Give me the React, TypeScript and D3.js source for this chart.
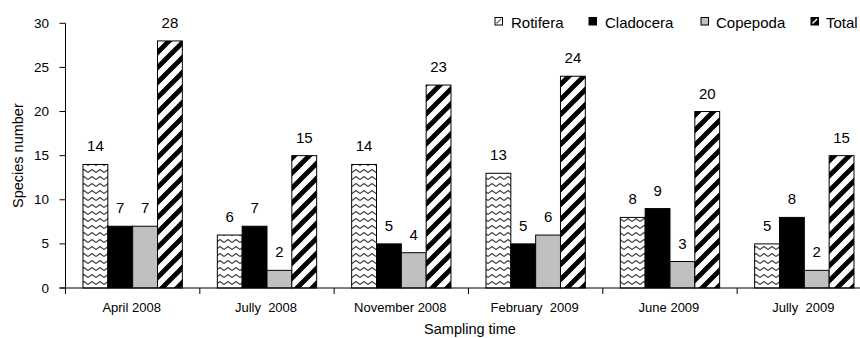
import React from "react";
import * as d3 from "d3";

const categories = ["April 2008", "Jully  2008", "November 2008", "February  2009", "June 2009", "Jully  2009"];
const seriesNames = ["Rotifera", "Cladocera", "Copepoda", "Total"];
const rotifera = [14, 6, 14, 13, 8, 5];
const cladocera = [7, 7, 5, 5, 9, 8];
const copepoda = [7, 2, 4, 6, 3, 2];
const total = [28, 15, 23, 24, 20, 15];
const yTicks = [0, 5, 10, 15, 20, 25, 30];

const seriesValues = [rotifera, cladocera, copepoda, total];
const fills = ["url(#zig)", "#000000", "#c0c0c0", "url(#stripe)"];

const W = 860;
const H = 338;
const FONT = "'Liberation Sans', Arial, sans-serif";

export default function App() {
  const x0 = 65.5;
  const catW = 134.33;
  const x = d3
    .scaleBand<string>()
    .domain(categories)
    .range([x0, x0 + catW * categories.length])
    .padding(0);
  const groupPad = 17.5;
  const xs = d3
    .scaleBand<string>()
    .domain(seriesNames)
    .range([groupPad, catW - groupPad])
    .padding(0);
  const y = d3.scaleLinear().domain([0, 30]).range([288, 23.3]);

  const legendItems = [
    { name: "Rotifera", sx: 495, tx: 511 },
    { name: "Cladocera", sx: 589, tx: 605 },
    { name: "Copepoda", sx: 701, tx: 716 },
    { name: "Total", sx: 811, tx: 826 },
  ];

  return (
    <svg
      width={W}
      height={H}
      style={{ position: "absolute", left: 0, top: 0, background: "#fff" }}
      fontFamily={FONT}
    >
      <defs>
        <pattern id="zig" patternUnits="userSpaceOnUse" width={8} height={7}>
          <rect width={8} height={7} fill="#fff" />
          <path d="M0,4.5 L4,1.5 L8,4.5" fill="none" stroke="#444" strokeWidth={1.4} />
        </pattern>
        <pattern id="stripe" patternUnits="userSpaceOnUse" width={15} height={15}>
          <rect width={15} height={15} fill="#fff" />
          <path
            d="M-4,4 L4,-4 M0,15 L15,0 M11,19 L19,11"
            stroke="#000"
            strokeWidth={4.8}
          />
        </pattern>
      </defs>
      <rect width={W} height={H} fill="#fff" />

      {categories.map((c, i) => (
        <g key={c}>
          {seriesNames.map((s, j) => {
            const v = seriesValues[j][i];
            const bx = (x(c) as number) + (xs(s) as number);
            const bw = xs.bandwidth();
            return (
              <g key={s}>
                <rect
                  x={bx}
                  y={y(v)}
                  width={bw}
                  height={y(0) - y(v)}
                  fill={fills[j]}
                  stroke="#000"
                  strokeWidth={1}
                />
                <text
                  x={bx + bw / 2}
                  y={y(v) - 13}
                  textAnchor="middle"
                  fontSize={15}
                  fill="#000"
                >
                  {v}
                </text>
              </g>
            );
          })}
        </g>
      ))}

      <line x1={x0} x2={x0} y1={y(30)} y2={y(0)} stroke="#000" strokeWidth={1} />
      {yTicks.map((t) => (
        <g key={t}>
          <line x1={x0 - 6} x2={x0} y1={y(t)} y2={y(t)} stroke="#000" />
          <text x={49} y={y(t) + 4.5} textAnchor="end" fontSize={13.5} fill="#000">
            {t}
          </text>
        </g>
      ))}
      <text
        transform={`translate(23,${(y(0) + y(30)) / 2}) rotate(-90)`}
        textAnchor="middle"
        fontSize={14.5}
        fill="#000"
      >
        Species number
      </text>

      <line
        x1={x0 - 6}
        x2={x0 + catW * categories.length}
        y1={y(0)}
        y2={y(0)}
        stroke="#000"
      />
      {categories.map((c) => (
        <line
          key={"t" + c}
          x1={x(c) as number}
          x2={x(c) as number}
          y1={y(0)}
          y2={y(0) + 6}
          stroke="#000"
        />
      ))}
      {categories.map((c) => (
        <text
          key={"l" + c}
          x={(x(c) as number) + x.bandwidth() / 2 - 1}
          y={312}
          textAnchor="middle"
          fontSize={13}
          fill="#000"
          style={{ whiteSpace: "pre" }}
        >
          {c}
        </text>
      ))}
      <text x={470} y={334} textAnchor="middle" fontSize={14.5} fill="#000">
        Sampling time
      </text>

      {legendItems.map((l, j) => (
        <g key={l.name}>
          {j === 0 && (
            <g>
              <rect x={l.sx} y={17.5} width={7.5} height={7.5} fill="#fff" stroke="#000" />
              <line x1={l.sx + 1.5} y1={23.5} x2={l.sx + 6} y2={19} stroke="#777" strokeWidth={1.5} />
            </g>
          )}
          {j === 1 && <rect x={l.sx} y={17.5} width={7.5} height={7.5} fill="#000" stroke="#000" />}
          {j === 2 && <rect x={l.sx} y={17.5} width={7.5} height={7.5} fill="#c0c0c0" stroke="#000" />}
          {j === 3 && (
            <g>
              <rect x={l.sx} y={17.5} width={7.5} height={7.5} fill="#000" stroke="#000" />
              <line x1={l.sx + 1.5} y1={23.5} x2={l.sx + 6} y2={19} stroke="#fff" strokeWidth={1.5} />
            </g>
          )}
          <text x={l.tx} y={27.5} fontSize={15} fill="#000">
            {l.name}
          </text>
        </g>
      ))}
    </svg>
  );
}
